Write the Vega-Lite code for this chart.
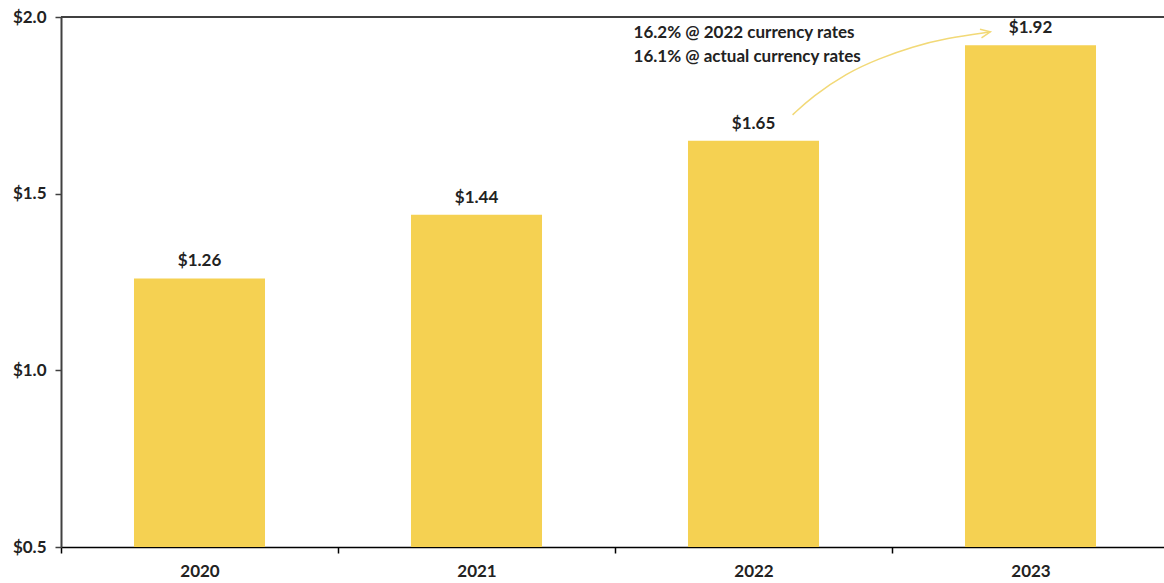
{
  "$schema": "https://vega.github.io/schema/vega-lite/v6.json",
  "width": 1103,
  "height": 530,
  "autosize": "none",
  "padding": {"left": 61, "top": 17, "right": 0, "bottom": 36},
  "background": "white",
  "config": {"view": {"stroke": null}, "font": "Lato"},
  "datasets": {
    "bars": [
      {"year": "2020", "value": 1.26, "label": "$1.26"},
      {"year": "2021", "value": 1.44, "label": "$1.44"},
      {"year": "2022", "value": 1.65, "label": "$1.65"},
      {"year": "2023", "value": 1.92, "label": "$1.92"}
    ],
    "arrow": [
      {"i": 0, "u": 2.641, "v": 1.723},
      {"i": 1, "u": 2.713, "v": 1.775},
      {"i": 2, "u": 2.835, "v": 1.841},
      {"i": 3, "u": 2.955, "v": 1.883},
      {"i": 4, "u": 3.074, "v": 1.916},
      {"i": 5, "u": 3.196, "v": 1.940},
      {"i": 6, "u": 3.355, "v": 1.958}
    ],
    "head": [{"u": 3.355, "v": 1.958}],
    "notes": [
      {"u": 2.067, "v": 1.955, "t": "16.2% @ 2022 currency rates"},
      {"u": 2.067, "v": 1.887, "t": "16.1% @ actual currency rates"}
    ],
    "top": [{"v": 2.0}]
  },
  "resolve": {"scale": {"x": "independent"}, "axis": {"x": "independent"}},
  "layer": [
    {
      "data": {"name": "bars"},
      "mark": {"type": "bar", "color": "#F5D152", "width": {"band": 0.473}},
      "encoding": {
        "x": {
          "field": "year", "type": "nominal",
          "scale": {"range": [0, 1108], "paddingInner": 0, "paddingOuter": 0},
          "axis": {
            "title": null, "labelAngle": 0, "tickBand": "extent", "tickSize": 6,
            "tickColor": "#000", "tickWidth": 1.5, "domainColor": "#000", "domainWidth": 1.5,
            "labelFont": "Lato", "labelFontSize": 17, "labelFontWeight": "bold",
            "labelColor": "#222", "labelPadding": 10
          }
        },
        "y": {
          "field": "value", "type": "quantitative",
          "scale": {"domain": [0.5, 2.0], "zero": false, "nice": false},
          "axis": {
            "title": null, "values": [0.5, 1.0, 1.5, 2.0], "format": "$.1f", "grid": false,
            "tickSize": 6, "tickColor": "#404040", "tickWidth": 1.5,
            "domainColor": "#404040", "domainWidth": 2,
            "labelFont": "Lato", "labelFontSize": 17, "labelFontWeight": "bold",
            "labelColor": "#222", "labelPadding": 9
          }
        },
        "y2": {"datum": 0.5}
      }
    },
    {
      "data": {"name": "bars"},
      "mark": {"type": "text", "dy": -17, "baseline": "middle", "font": "Lato", "fontSize": 17, "fontWeight": "bold", "color": "#222"},
      "encoding": {
        "x": {"field": "year", "type": "nominal", "scale": {"range": [0, 1108], "paddingInner": 0, "paddingOuter": 0}, "axis": null},
        "y": {"field": "value", "type": "quantitative", "scale": {"domain": [0.5, 2.0], "zero": false, "nice": false}},
        "text": {"field": "label"}
      }
    },
    {
      "data": {"name": "top"},
      "mark": {"type": "rule", "color": "#404040", "strokeWidth": 2},
      "encoding": {"y": {"field": "v", "type": "quantitative"}}
    },
    {
      "data": {"name": "arrow"},
      "mark": {"type": "line", "interpolate": "basis", "color": "#F2D977", "strokeWidth": 1.5},
      "encoding": {
        "x": {"field": "u", "type": "quantitative", "scale": {"domain": [0, 4], "range": [0, 1108], "nice": false, "zero": false}, "axis": null},
        "y": {"field": "v", "type": "quantitative"},
        "order": {"field": "i"}
      }
    },
    {
      "data": {"name": "head"},
      "mark": {"type": "point", "shape": "M-1,-0.45L0,0L-1,0.45", "filled": false, "size": 380, "angle": -10, "color": "#F2D977", "strokeWidth": 1.5, "opacity": 1},
      "encoding": {
        "x": {"field": "u", "type": "quantitative", "scale": {"domain": [0, 4], "range": [0, 1108], "nice": false, "zero": false}, "axis": null},
        "y": {"field": "v", "type": "quantitative"}
      }
    },
    {
      "data": {"name": "notes"},
      "mark": {"type": "text", "align": "left", "baseline": "middle", "font": "Lato", "fontSize": 17, "fontWeight": "bold", "color": "#222"},
      "encoding": {
        "x": {"field": "u", "type": "quantitative", "scale": {"domain": [0, 4], "range": [0, 1108], "nice": false, "zero": false}, "axis": null},
        "y": {"field": "v", "type": "quantitative"},
        "text": {"field": "t"}
      }
    }
  ]
}
